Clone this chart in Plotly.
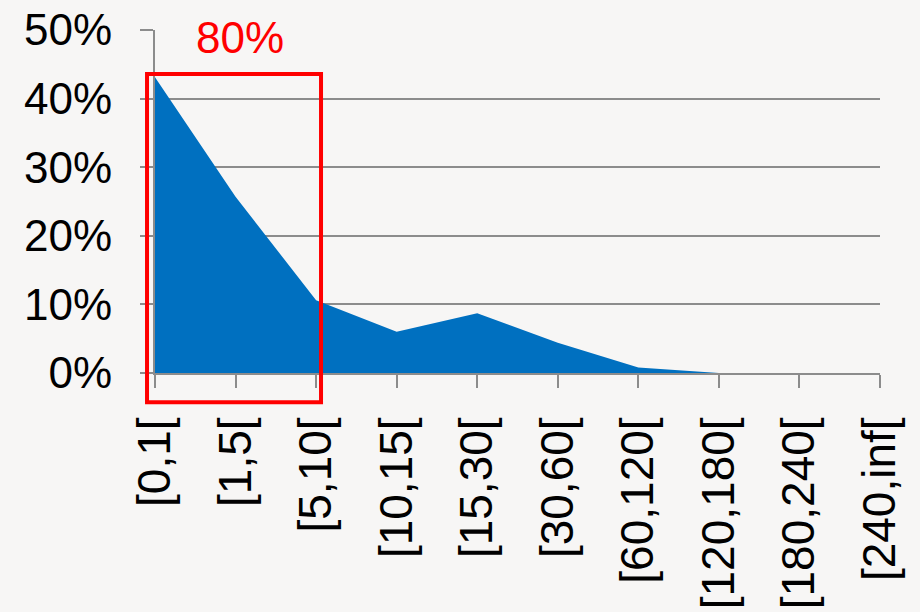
import plotly.graph_objects as go

categories = ["[0,1[", "[1,5[", "[5,10[", "[10,15[", "[15,30[", "[30,60[",
              "[60,120[", "[120,180[", "[180,240[", "[240,inf["]
share = [0.431, 0.257, 0.106, 0.060, 0.087, 0.044, 0.008, 0.0, 0.0, 0.0]
y_ticks = [0, 0.1, 0.2, 0.3, 0.4, 0.5]
y_tick_labels = ["0%", "10%", "20%", "30%", "40%", "50%"]
highlight_label = "80%"

fig = go.Figure()
fig.add_trace(go.Scatter(
    x=categories, y=share, mode="lines", fill="tozeroy",
    fillcolor="#0070C0", line=dict(color="#0070C0", width=0),
    hoverinfo="skip", showlegend=False,
))

font_family = "Liberation Sans, Arial, sans-serif"
fig.update_layout(
    width=920, height=612,
    margin=dict(l=155, r=40, t=30, b=239, autoexpand=False),
    paper_bgcolor="#f7f6f5", plot_bgcolor="rgba(0,0,0,0)",
    font=dict(family=font_family, color="black", size=44),
    showlegend=False,
    xaxis=dict(
        type="category", range=[0, len(categories) - 1], automargin=False,
        showgrid=False, showline=True, linecolor="#8c8c8c", linewidth=2,
        ticks="outside", ticklen=13, tickwidth=2, tickcolor="#8c8c8c",
        tickangle=-90, tickfont=dict(size=46, family=font_family),
        ticklabelstandoff=11, zeroline=False, ticklabeloverflow="allow",
    ),
    yaxis=dict(
        range=[0, 0.5], tickvals=y_ticks, ticktext=y_tick_labels, automargin=False,
        showgrid=True, gridcolor="#8c8c8c", gridwidth=2,
        showline=True, linecolor="#8c8c8c", linewidth=2,
        ticks="outside", ticklen=13, tickwidth=2, tickcolor="#8c8c8c",
        tickfont=dict(size=44, family=font_family),
        ticklabelstandoff=19, zeroline=False, ticklabeloverflow="allow",
    ),
    shapes=[dict(
        type="rect", xref="paper", yref="paper",
        x0=-0.011, x1=0.229, y0=-0.085, y1=0.872,
        line=dict(color="#ff0000", width=4), fillcolor="rgba(0,0,0,0)",
    )],
    annotations=[dict(
        text=highlight_label, xref="paper", yref="paper",
        x=0.117, y=0.977, showarrow=False,
        font=dict(color="#ff0000", size=44, family=font_family),
        xanchor="center", yanchor="middle",
    )],
)

fig.write_html(
    "out.html",
    config={"displayModeBar": False},
    post_script="document.body.style.margin='0';document.body.style.background='#f7f6f5';",
)
